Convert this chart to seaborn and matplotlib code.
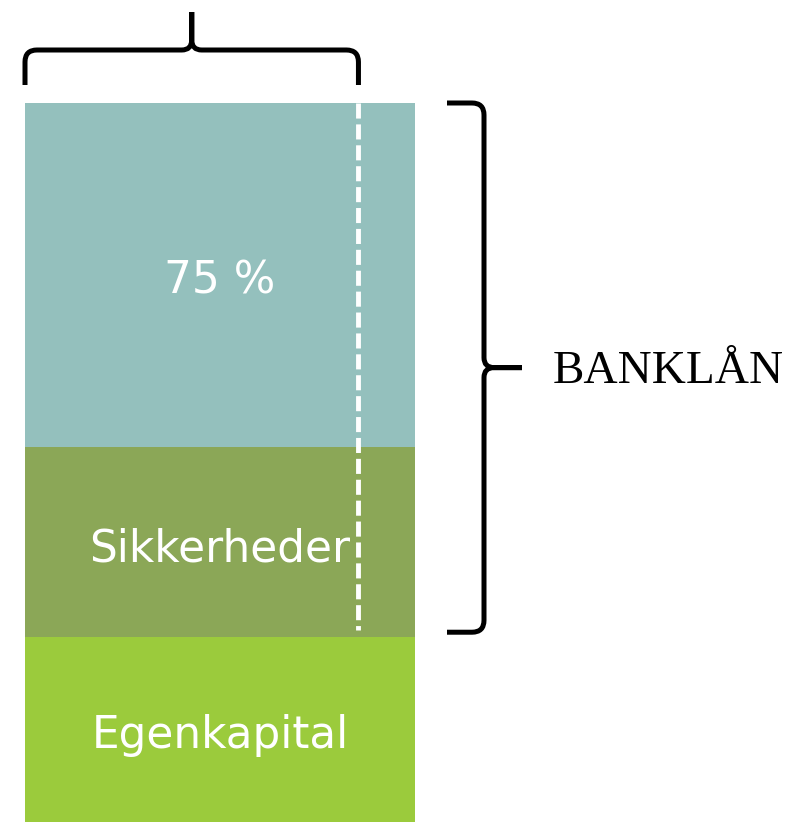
import numpy as np
import pandas as pd
import seaborn as sns
import matplotlib.pyplot as plt
from matplotlib.path import Path
from matplotlib.patches import PathPatch

# segment data, bottom to top (share of the total purchase)
segments = ["Egenkapital", "Sikkerheder", "75 %"]
values = [25.7, 26.4, 47.9]
colors = ["#9bcb3c", "#8ba757", "#94c0bd"]
brace_label = "BANKLÅN"
dash_frac = 0.855  # where the dashed line sits across the bar

W, H = 787, 823
sns.set_theme(style="white")
plt.rcParams["font.family"] = ["DejaVu Sans"]

fig = plt.figure(figsize=(W / 100, H / 100), dpi=100)
ax = fig.add_axes([25 / W, 1 / H, 390 / W, 719 / H])

df = pd.DataFrame({"segment": segments, "value": values})
df["top"] = df["value"].cumsum()
df["mid"] = df["top"] - df["value"] / 2
total = df["top"].iloc[-1]

# stacked bar: draw cumulative totals from largest to smallest
for i in reversed(range(len(df))):
    sns.barplot(x=[""], y=[df["top"].iloc[i]], color=colors[i], width=1,
                saturation=1, linewidth=0, ax=ax)

for _, row in df.iterrows():
    ax.annotate(row["segment"], (0, row["mid"]), xytext=(0, -4.5),
                textcoords="offset points", ha="center", va="center",
                color="white", fontsize=31.5)

xd = -0.5 + dash_frac
ax.plot([xd, xd], [total, values[0] + 1], color="white", lw=3.5,
        ls=(0, (3.1, 1.2)), solid_capstyle="butt")

ax.set_xlim(-0.5, 0.5)
ax.set_ylim(0, total)
ax.axis("off")

# overlay in pixel coordinates for the braces
ov = fig.add_axes([0, 0, 1, 1])
ov.set_xlim(0, W)
ov.set_ylim(0, H)
ov.axis("off")
ov.patch.set_alpha(0)
fig.canvas.draw()


def brace(p0, p1, n, v1, hgt, r=12, r2=10):
    p0, p1, n = np.array(p0, float), np.array(p1, float), np.array(n, float)
    L = np.linalg.norm(p1 - p0)
    u = (p1 - p0) / L

    def pt(a, b):
        return p0 + a * u + b * n

    half = L / 2
    verts = [pt(0, 0), pt(0, v1 - r), pt(0, v1), pt(r, v1),
             pt(half - r2, v1), pt(half, v1), pt(half, v1 + r2), pt(half, hgt),
             pt(L, 0), pt(L, v1 - r), pt(L, v1), pt(L - r, v1),
             pt(half + r2, v1), pt(half, v1), pt(half, v1 + r2), pt(half, hgt)]
    codes = [Path.MOVETO, Path.LINETO, Path.CURVE3, Path.CURVE3,
             Path.LINETO, Path.CURVE3, Path.CURVE3, Path.LINETO] * 2
    ov.add_patch(PathPatch(Path(verts, codes), fill=False, lw=3.6,
                           edgecolor="black", capstyle="butt", joinstyle="round"))


to_px = ax.transData.transform
bl = to_px((-0.5, total))
bd = to_px((xd, total))
br = to_px((0.5, total))
be = to_px((0.5, values[0]))

# brace over the bar up to the dashed line
brace((bl[0], bl[1] + 18), (bd[0], bd[1] + 18), (0, 1), 35, 73)
# brace beside the loan part
brace((br[0] + 32, br[1]), (be[0] + 32, be[1] + 5), (1, 0), 37, 75)

ymid = (br[1] + be[1] + 5) / 2
ov.text(br[0] + 138, ymid - 4, brace_label, ha="left", va="center",
        fontsize=34, family=["Liberation Serif"], color="black")

fig.savefig("out.png", dpi=100)
